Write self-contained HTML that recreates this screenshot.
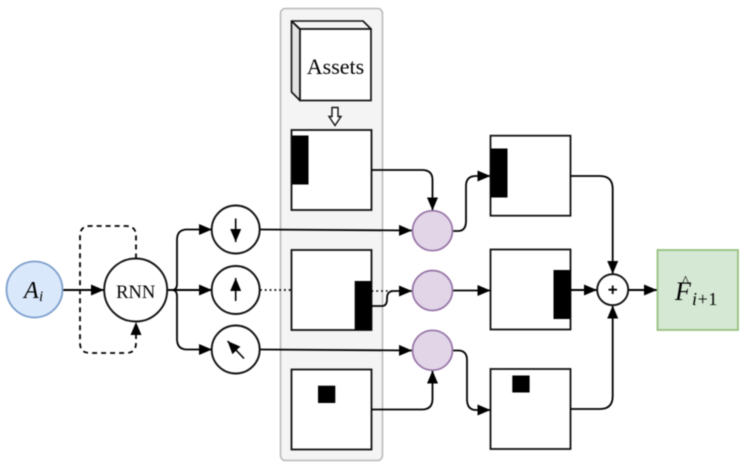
<!DOCTYPE html>
<html><head><meta charset="utf-8">
<style>
html,body{margin:0;padding:0;background:#fff;width:747px;height:471px;overflow:hidden}
svg{display:block;filter:blur(0.4px)}
text{font-family:"Liberation Serif",serif;fill:#000}
</style></head><body>
<svg width="747" height="471" viewBox="0 0 747 471" xmlns="http://www.w3.org/2000/svg">
<defs>
<marker id="a" markerUnits="userSpaceOnUse" markerWidth="14" markerHeight="12" refX="13" refY="6" orient="auto"><path d="M0 0.5L13 6L0 11.5Z" fill="#000"/></marker>
</defs>
<!-- panel -->
<rect x="280.500" y="8.500" width="102" height="452" rx="5" fill="#f4f4f4" stroke="#b8b8b8" stroke-width="1.500"/>
<!-- assets -->
<path d="M291.500 21L300 29.500V100.500L291.500 92Z" fill="#e2e2e2" stroke="#111" stroke-width="1.600" stroke-linejoin="round"/>
<path d="M291.500 21H363L371 29H300Z" fill="#f5f5f5" stroke="#111" stroke-width="1.600" stroke-linejoin="round"/>
<rect x="300" y="29" width="71" height="71.500" fill="#fff" stroke="#111" stroke-width="1.700"/>
<text x="335.500" y="74" font-size="22" text-anchor="middle">Assets</text>
<path d="M332 107.500H338V116.500H341L335 125.500L329 116.500H332Z" fill="#fff" stroke="#111" stroke-width="1.400"/>
<!-- images -->
<g fill="#fff" stroke="#111" stroke-width="1.800">
<rect x="291.500" y="130" width="80" height="80"/>
<rect x="291.500" y="250" width="80" height="80"/>
<rect x="291.500" y="369.500" width="80" height="80"/>
<rect x="490.500" y="135.700" width="80" height="80"/>
<rect x="490.500" y="249.500" width="80" height="80"/>
<rect x="490.500" y="369" width="80" height="80"/>
</g>
<g fill="#000">
<rect x="292" y="135.500" width="16.500" height="49"/>
<rect x="354.700" y="281" width="17" height="49"/>
<rect x="318" y="385.700" width="17.300" height="17.300"/>
<rect x="490.500" y="148.500" width="17" height="49"/>
<rect x="553.500" y="270" width="17" height="49"/>
<rect x="512.300" y="375.500" width="17.300" height="17"/>
</g>
<!-- connectors -->
<g fill="none" stroke="#000" stroke-width="1.800">
<path d="M63 290H104" stroke-width="2" marker-end="url(#a)"/>
<path d="M136 258.500V236Q136 226 126 226H90Q80 226 80 236V343Q80 353 90 353H126Q136 353 136 343V322" stroke-dasharray="5 4" marker-end="url(#a)"/>
<path d="M167.500 290H172Q177 290 177 284V240Q177 229.500 187 229.500H212" marker-end="url(#a)"/>
<path d="M167.500 290H212" stroke-width="2" marker-end="url(#a)"/>
<path d="M167.500 290H172Q177 290 177 296V339Q177 349.500 187 349.500H212" marker-end="url(#a)"/>
<path d="M260 229.500L412 230.500" marker-end="url(#a)"/>
<path d="M260 290H291" stroke-dasharray="1.800 3"/>
<path d="M371.500 291L395 291" stroke-width="1.400" stroke-dasharray="1.800 3"/>
<path d="M372 306H382Q387 306 387 299V298Q387 291 394 291H412" marker-end="url(#a)"/>
<path d="M260 349.500L412 350.500" marker-end="url(#a)"/>
<path d="M371.500 170H422Q432.500 170 432.500 180V210.500" marker-end="url(#a)"/>
<path d="M371.500 409.500H422Q432.500 409.500 432.500 399V370.500" marker-end="url(#a)"/>
<path d="M452.500 231H458Q466 231 466 221V186Q466 176 476 176H490.500" marker-end="url(#a)"/>
<path d="M452.500 290.500H490.500" marker-end="url(#a)"/>
<path d="M452.500 350.500H458Q467 350.500 467 360V399Q467 410 476 410H490.500" marker-end="url(#a)"/>
<path d="M570.500 176H600Q612.700 176 612.700 189V274" marker-end="url(#a)"/>
<path d="M570.500 290H597" stroke-width="2" marker-end="url(#a)"/>
<path d="M570.500 409H600Q612.700 409 612.700 396V305.500" marker-end="url(#a)"/>
<path d="M628.500 290H657" stroke-width="2" marker-end="url(#a)"/>
</g>
<!-- nodes -->
<circle cx="34.500" cy="289.500" r="28" fill="#dae8fc" stroke="#7c9fcc" stroke-width="1.800"/>
<text x="24" y="298" font-size="24" font-style="italic">A</text>
<text x="39" y="301" font-size="15" font-style="italic">i</text>
<circle cx="135.700" cy="290" r="31.500" fill="#fff" stroke="#111" stroke-width="1.900"/>
<text x="135.700" y="298" font-size="18.500" text-anchor="middle">RNN</text>
<g fill="#fff" stroke="#111" stroke-width="1.900">
<circle cx="235.700" cy="229.500" r="24"/>
<circle cx="235.700" cy="290" r="24"/>
<circle cx="235.700" cy="349.500" r="24"/>
</g>
<g fill="none" stroke="#000" stroke-width="1.600">
<path d="M235.700 218.500V242" marker-end="url(#a)"/>
<path d="M235.700 301V278" marker-end="url(#a)"/>
<path d="M244 358.500L227.500 341" marker-end="url(#a)"/>
</g>
<g fill="#e1d5e7" stroke="#9673a6" stroke-width="1.700">
<circle cx="432.500" cy="230.700" r="20"/>
<circle cx="432.500" cy="290.500" r="20"/>
<circle cx="432.500" cy="350.300" r="20"/>
</g>
<circle cx="612.700" cy="289.700" r="15.500" fill="#fff" stroke="#111" stroke-width="1.900"/>
<path d="M608.500 289.700H617M612.700 285.500V294" stroke="#000" stroke-width="1.800" fill="none"/>
<rect x="657.500" y="250" width="80.500" height="80" fill="#d5e8d4" stroke="#97c07f" stroke-width="1.800"/>
<text x="675" y="300" font-size="26" font-style="italic">F</text>
<text x="682" y="286" font-size="15">^</text>
<text x="692" y="305" font-size="18" letter-spacing="0.6"><tspan font-style="italic">i</tspan>+1</text>
</svg>
</body></html>
